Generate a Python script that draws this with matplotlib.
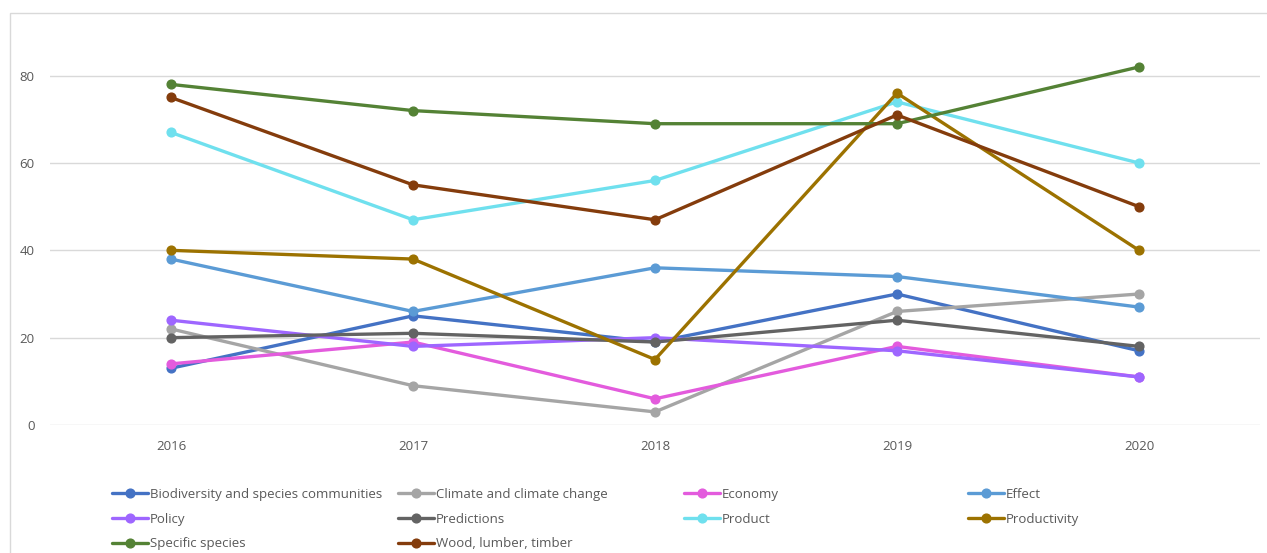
import matplotlib.pyplot as plt
from matplotlib.patches import Rectangle

plt.rcParams['font.family'] = ['Open Sans', 'DejaVu Sans']

years = ['2016', '2017', '2018', '2019', '2020']

biodiversity = [13, 25, 19, 30, 17]
climate = [22, 9, 3, 26, 30]
economy = [14, 19, 6, 18, 11]
effect = [38, 26, 36, 34, 27]
policy = [24, 18, 20, 17, 11]
predictions = [20, 21, 19, 24, 18]
product = [67, 47, 56, 74, 60]
productivity = [40, 38, 15, 76, 40]
specific_species = [78, 72, 69, 69, 82]
wood = [75, 55, 47, 71, 50]

names = ['Biodiversity and species communities', 'Climate and climate change',
         'Economy', 'Effect', 'Policy', 'Predictions', 'Product',
         'Productivity', 'Specific species', 'Wood, lumber, timber']
series = [biodiversity, climate, economy, effect, policy, predictions,
          product, productivity, specific_species, wood]
colors = ['#4472C4', '#A5A5A5', '#E35BDD', '#5B9BD5', '#9E66FF',
          '#636363', '#6FE0EE', '#9C7200', '#548235', '#843C0C']

W, H = 1267, 553
fig = plt.figure(figsize=(W / 100, H / 100), dpi=100)
ax = fig.add_axes([50 / W, (H - 425) / H, 1210 / W, (425 - 32) / H])

x = range(len(years))
handles = []
for vals, name, c in zip(series, names, colors):
    h, = ax.plot(x, vals, color=c, lw=2.4, marker='o', ms=6.3, label=name,
                 solid_capstyle='round', zorder=3)
    handles.append(h)

ax.set_xlim(-0.5, len(years) - 0.5)
ax.set_ylim(0, 90)
ax.set_yticks([0, 20, 40, 60, 80])
ax.set_xticks(list(x))
ax.set_xticklabels(years)
ax.grid(axis='y', color='#D9D9D9', lw=1)
ax.set_axisbelow(True)
for s in ax.spines.values():
    s.set_visible(False)
ax.tick_params(length=0, labelsize=9.5, colors='#595959', pad=11)
ax.tick_params(axis='y', pad=11)

# legend: four equal-width columns, filled row by row
col_x = [112, 398, 684, 968]
for j, cx in enumerate(col_x):
    hs = handles[j::4]
    fig.legend(handles=hs, loc='upper left',
               bbox_to_anchor=(cx / W, 1 - 488 / H), frameon=False,
               fontsize=9.5, labelcolor='#595959', handlelength=2.7,
               handletextpad=0.15, labelspacing=0.88, borderpad=0,
               borderaxespad=0)

fig.patches.append(Rectangle((10 / W, -0.1), 1.2, 1.1 - 13 / H,
                             transform=fig.transFigure, fill=False,
                             edgecolor='#D9D9D9', lw=1))

fig.savefig('out.png', dpi=100)
